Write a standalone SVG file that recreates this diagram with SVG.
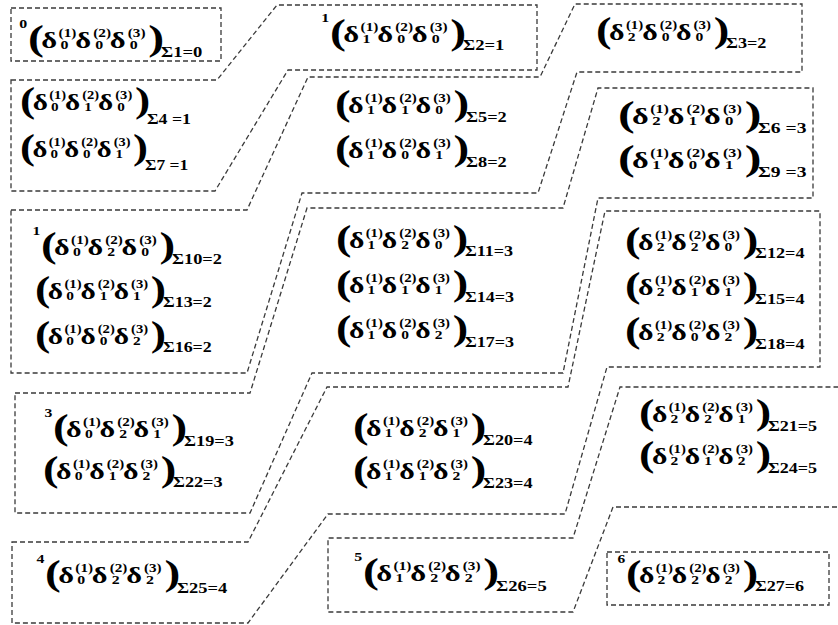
<svg xmlns="http://www.w3.org/2000/svg" width="838" height="625" viewBox="0 0 838 625">
<style>
  .bg { fill: #ffffff; }
  .zone { fill: none; stroke: #3a3a3a; stroke-width: 1.3; stroke-dasharray: 5 3; }
  .states text { font-family: "Liberation Serif", "Times New Roman", "DejaVu Serif", serif; font-weight: bold; fill: #000; }
  .pa { font-size: 36px; }
  .d  { font-size: 23px; }
  .sp { font-size: 11.5px; }
  .sb { font-size: 12px; }
  .lb { font-size: 14px; }
  .pf { font-size: 12px; }
</style>
<rect class="bg" x="0" y="0" width="838" height="625"/>

<!-- dashed outlines: one per total index value -->
<g id="zones">
  <path id="zone0" class="zone" d="M11,8 H221 V61 H11 Z"/>
  <path id="zone1" class="zone" d="M11,80 H217 L277,5 H537 V70 H288 L215,191 H11 Z"/>
  <path id="zone2" class="zone" d="M11,210 H247 L308,77 H540 L575,4 H802 V72 H577 L538,193 H302 L247,373 H11 Z"/>
  <path id="zone3" class="zone" d="M15,393 H250 L307,208 H563 L598,88 H813 V198 H598 L563,373 H312 L250,513 H15 Z"/>
  <path id="zone4" class="zone" d="M12,542 H248 L327,387 H568 L605,211 H820 V367 H607 L565,514 H328 L248,623 H12 Z"/>
  <path id="zone5" class="zone" d="M845,507 H613 L573,612 H328 V538 H573 L620,387 H845"/>
  <path id="zone6" class="zone" d="M607,552 H829 V605 H607 Z"/>
</g>

<!-- states: (  d^(1)_a d^(2)_b d^(3)_c  ) with the sum label -->
<g class="states" font-family="Liberation Serif, serif" font-weight="bold">
<g id="s1" transform="translate(28,48) scale(1.33,1)"><text><tspan class="pf" x="-6.5" y="-20">0</tspan><tspan class="pa" x="0" y="2">(</tspan><tspan class="d" x="10" y="0">δ</tspan><tspan class="sp" x="23" y="-11">(1)</tspan><tspan class="sb" x="24.5" y="1">0</tspan><tspan class="d" x="35.5" y="0">δ</tspan><tspan class="sp" x="49" y="-11">(2)</tspan><tspan class="sb" x="50.5" y="1">0</tspan><tspan class="d" x="61.5" y="0">δ</tspan><tspan class="sp" x="75" y="-11">(3)</tspan><tspan class="sb" x="76.5" y="1">0</tspan><tspan class="pa" x="90.5" y="2">)</tspan><tspan class="lb" x="100" y="9">Σ1=0</tspan></text></g>
<g id="s2" transform="translate(330,42) scale(1.33,1)"><text><tspan class="pf" x="-6.5" y="-20">1</tspan><tspan class="pa" x="0" y="2">(</tspan><tspan class="d" x="10" y="0">δ</tspan><tspan class="sp" x="23" y="-11">(1)</tspan><tspan class="sb" x="24.5" y="1">1</tspan><tspan class="d" x="35.5" y="0">δ</tspan><tspan class="sp" x="49" y="-11">(2)</tspan><tspan class="sb" x="50.5" y="1">0</tspan><tspan class="d" x="61.5" y="0">δ</tspan><tspan class="sp" x="75" y="-11">(3)</tspan><tspan class="sb" x="76.5" y="1">0</tspan><tspan class="pa" x="90.5" y="2">)</tspan><tspan class="lb" x="100" y="8">Σ2=1</tspan></text></g>
<g id="s3" transform="translate(596,40) scale(1.30,1)"><text><tspan class="pa" x="0" y="2">(</tspan><tspan class="d" x="10" y="0">δ</tspan><tspan class="sp" x="23" y="-11">(1)</tspan><tspan class="sb" x="24.5" y="1">2</tspan><tspan class="d" x="35.5" y="0">δ</tspan><tspan class="sp" x="49" y="-11">(2)</tspan><tspan class="sb" x="50.5" y="1">0</tspan><tspan class="d" x="61.5" y="0">δ</tspan><tspan class="sp" x="75" y="-11">(3)</tspan><tspan class="sb" x="76.5" y="1">0</tspan><tspan class="pa" x="90.5" y="2">)</tspan><tspan class="lb" x="100" y="8">Σ3=2</tspan></text></g>
<g id="s4" transform="translate(20,110) scale(1.27,1)"><text><tspan class="pa" x="0" y="2">(</tspan><tspan class="d" x="10" y="0">δ</tspan><tspan class="sp" x="23" y="-11">(1)</tspan><tspan class="sb" x="24.5" y="1">0</tspan><tspan class="d" x="35.5" y="0">δ</tspan><tspan class="sp" x="49" y="-11">(2)</tspan><tspan class="sb" x="50.5" y="1">1</tspan><tspan class="d" x="61.5" y="0">δ</tspan><tspan class="sp" x="75" y="-11">(3)</tspan><tspan class="sb" x="76.5" y="1">0</tspan><tspan class="pa" x="90.5" y="2">)</tspan><tspan class="lb" x="100" y="14">Σ4 =1</tspan></text></g>
<g id="s5" transform="translate(335,113) scale(1.31,1)"><text><tspan class="pa" x="0" y="2">(</tspan><tspan class="d" x="10" y="0">δ</tspan><tspan class="sp" x="23" y="-11">(1)</tspan><tspan class="sb" x="24.5" y="1">1</tspan><tspan class="d" x="35.5" y="0">δ</tspan><tspan class="sp" x="49" y="-11">(2)</tspan><tspan class="sb" x="50.5" y="1">1</tspan><tspan class="d" x="61.5" y="0">δ</tspan><tspan class="sp" x="75" y="-11">(3)</tspan><tspan class="sb" x="76.5" y="1">0</tspan><tspan class="pa" x="90.5" y="2">)</tspan><tspan class="lb" x="100" y="9">Σ5=2</tspan></text></g>
<g id="s6" transform="translate(618,124) scale(1.40,1)"><text><tspan class="pa" x="0" y="2">(</tspan><tspan class="d" x="10" y="0">δ</tspan><tspan class="sp" x="23" y="-11">(1)</tspan><tspan class="sb" x="24.5" y="1">2</tspan><tspan class="d" x="35.5" y="0">δ</tspan><tspan class="sp" x="49" y="-11">(2)</tspan><tspan class="sb" x="50.5" y="1">1</tspan><tspan class="d" x="61.5" y="0">δ</tspan><tspan class="sp" x="75" y="-11">(3)</tspan><tspan class="sb" x="76.5" y="1">0</tspan><tspan class="pa" x="90.5" y="2">)</tspan><tspan class="lb" x="100" y="9">Σ6 =3</tspan></text></g>
<g id="s7" transform="translate(20,157) scale(1.25,1)"><text><tspan class="pa" x="0" y="2">(</tspan><tspan class="d" x="10" y="0">δ</tspan><tspan class="sp" x="23" y="-11">(1)</tspan><tspan class="sb" x="24.5" y="1">0</tspan><tspan class="d" x="35.5" y="0">δ</tspan><tspan class="sp" x="49" y="-11">(2)</tspan><tspan class="sb" x="50.5" y="1">0</tspan><tspan class="d" x="61.5" y="0">δ</tspan><tspan class="sp" x="75" y="-11">(3)</tspan><tspan class="sb" x="76.5" y="1">1</tspan><tspan class="pa" x="90.5" y="2">)</tspan><tspan class="lb" x="100" y="13">Σ7 =1</tspan></text></g>
<g id="s8" transform="translate(335,158) scale(1.31,1)"><text><tspan class="pa" x="0" y="2">(</tspan><tspan class="d" x="10" y="0">δ</tspan><tspan class="sp" x="23" y="-11">(1)</tspan><tspan class="sb" x="24.5" y="1">1</tspan><tspan class="d" x="35.5" y="0">δ</tspan><tspan class="sp" x="49" y="-11">(2)</tspan><tspan class="sb" x="50.5" y="1">0</tspan><tspan class="d" x="61.5" y="0">δ</tspan><tspan class="sp" x="75" y="-11">(3)</tspan><tspan class="sb" x="76.5" y="1">1</tspan><tspan class="pa" x="90.5" y="2">)</tspan><tspan class="lb" x="100" y="9">Σ8=2</tspan></text></g>
<g id="s9" transform="translate(618,168) scale(1.40,1)"><text><tspan class="pa" x="0" y="2">(</tspan><tspan class="d" x="10" y="0">δ</tspan><tspan class="sp" x="23" y="-11">(1)</tspan><tspan class="sb" x="24.5" y="1">1</tspan><tspan class="d" x="35.5" y="0">δ</tspan><tspan class="sp" x="49" y="-11">(2)</tspan><tspan class="sb" x="50.5" y="1">0</tspan><tspan class="d" x="61.5" y="0">δ</tspan><tspan class="sp" x="75" y="-11">(3)</tspan><tspan class="sb" x="76.5" y="1">1</tspan><tspan class="pa" x="90.5" y="2">)</tspan><tspan class="lb" x="100" y="9">Σ9 =3</tspan></text></g>
<g id="s10" transform="translate(41,255) scale(1.31,1)"><text><tspan class="pf" x="-6.5" y="-20">1</tspan><tspan class="pa" x="0" y="2">(</tspan><tspan class="d" x="10" y="0">δ</tspan><tspan class="sp" x="23" y="-11">(1)</tspan><tspan class="sb" x="24.5" y="1">0</tspan><tspan class="d" x="35.5" y="0">δ</tspan><tspan class="sp" x="49" y="-11">(2)</tspan><tspan class="sb" x="50.5" y="1">2</tspan><tspan class="d" x="61.5" y="0">δ</tspan><tspan class="sp" x="75" y="-11">(3)</tspan><tspan class="sb" x="76.5" y="1">0</tspan><tspan class="pa" x="90.5" y="2">)</tspan><tspan class="lb" x="100" y="9">Σ10=2</tspan></text></g>
<g id="s11" transform="translate(336,248) scale(1.29,1)"><text><tspan class="pa" x="0" y="2">(</tspan><tspan class="d" x="10" y="0">δ</tspan><tspan class="sp" x="23" y="-11">(1)</tspan><tspan class="sb" x="24.5" y="1">1</tspan><tspan class="d" x="35.5" y="0">δ</tspan><tspan class="sp" x="49" y="-11">(2)</tspan><tspan class="sb" x="50.5" y="1">2</tspan><tspan class="d" x="61.5" y="0">δ</tspan><tspan class="sp" x="75" y="-11">(3)</tspan><tspan class="sb" x="76.5" y="1">0</tspan><tspan class="pa" x="90.5" y="2">)</tspan><tspan class="lb" x="100" y="8">Σ11=3</tspan></text></g>
<g id="s12" transform="translate(625,250) scale(1.30,1)"><text><tspan class="pa" x="0" y="2">(</tspan><tspan class="d" x="10" y="0">δ</tspan><tspan class="sp" x="23" y="-11">(1)</tspan><tspan class="sb" x="24.5" y="1">2</tspan><tspan class="d" x="35.5" y="0">δ</tspan><tspan class="sp" x="49" y="-11">(2)</tspan><tspan class="sb" x="50.5" y="1">2</tspan><tspan class="d" x="61.5" y="0">δ</tspan><tspan class="sp" x="75" y="-11">(3)</tspan><tspan class="sb" x="76.5" y="1">0</tspan><tspan class="pa" x="90.5" y="2">)</tspan><tspan class="lb" x="100" y="8">Σ12=4</tspan></text></g>
<g id="s13" transform="translate(35,299) scale(1.28,1)"><text><tspan class="pa" x="0" y="2">(</tspan><tspan class="d" x="10" y="0">δ</tspan><tspan class="sp" x="23" y="-11">(1)</tspan><tspan class="sb" x="24.5" y="1">0</tspan><tspan class="d" x="35.5" y="0">δ</tspan><tspan class="sp" x="49" y="-11">(2)</tspan><tspan class="sb" x="50.5" y="1">1</tspan><tspan class="d" x="61.5" y="0">δ</tspan><tspan class="sp" x="75" y="-11">(3)</tspan><tspan class="sb" x="76.5" y="1">1</tspan><tspan class="pa" x="90.5" y="2">)</tspan><tspan class="lb" x="100" y="8">Σ13=2</tspan></text></g>
<g id="s14" transform="translate(336,293) scale(1.29,1)"><text><tspan class="pa" x="0" y="2">(</tspan><tspan class="d" x="10" y="0">δ</tspan><tspan class="sp" x="23" y="-11">(1)</tspan><tspan class="sb" x="24.5" y="1">1</tspan><tspan class="d" x="35.5" y="0">δ</tspan><tspan class="sp" x="49" y="-11">(2)</tspan><tspan class="sb" x="50.5" y="1">1</tspan><tspan class="d" x="61.5" y="0">δ</tspan><tspan class="sp" x="75" y="-11">(3)</tspan><tspan class="sb" x="76.5" y="1">1</tspan><tspan class="pa" x="90.5" y="2">)</tspan><tspan class="lb" x="100" y="9">Σ14=3</tspan></text></g>
<g id="s15" transform="translate(625,295) scale(1.30,1)"><text><tspan class="pa" x="0" y="2">(</tspan><tspan class="d" x="10" y="0">δ</tspan><tspan class="sp" x="23" y="-11">(1)</tspan><tspan class="sb" x="24.5" y="1">2</tspan><tspan class="d" x="35.5" y="0">δ</tspan><tspan class="sp" x="49" y="-11">(2)</tspan><tspan class="sb" x="50.5" y="1">1</tspan><tspan class="d" x="61.5" y="0">δ</tspan><tspan class="sp" x="75" y="-11">(3)</tspan><tspan class="sb" x="76.5" y="1">1</tspan><tspan class="pa" x="90.5" y="2">)</tspan><tspan class="lb" x="100" y="9">Σ15=4</tspan></text></g>
<g id="s16" transform="translate(35,344) scale(1.28,1)"><text><tspan class="pa" x="0" y="2">(</tspan><tspan class="d" x="10" y="0">δ</tspan><tspan class="sp" x="23" y="-11">(1)</tspan><tspan class="sb" x="24.5" y="1">0</tspan><tspan class="d" x="35.5" y="0">δ</tspan><tspan class="sp" x="49" y="-11">(2)</tspan><tspan class="sb" x="50.5" y="1">0</tspan><tspan class="d" x="61.5" y="0">δ</tspan><tspan class="sp" x="75" y="-11">(3)</tspan><tspan class="sb" x="76.5" y="1">2</tspan><tspan class="pa" x="90.5" y="2">)</tspan><tspan class="lb" x="100" y="8">Σ16=2</tspan></text></g>
<g id="s17" transform="translate(336,338) scale(1.29,1)"><text><tspan class="pa" x="0" y="2">(</tspan><tspan class="d" x="10" y="0">δ</tspan><tspan class="sp" x="23" y="-11">(1)</tspan><tspan class="sb" x="24.5" y="1">1</tspan><tspan class="d" x="35.5" y="0">δ</tspan><tspan class="sp" x="49" y="-11">(2)</tspan><tspan class="sb" x="50.5" y="1">0</tspan><tspan class="d" x="61.5" y="0">δ</tspan><tspan class="sp" x="75" y="-11">(3)</tspan><tspan class="sb" x="76.5" y="1">2</tspan><tspan class="pa" x="90.5" y="2">)</tspan><tspan class="lb" x="100" y="9">Σ17=3</tspan></text></g>
<g id="s18" transform="translate(625,340) scale(1.30,1)"><text><tspan class="pa" x="0" y="2">(</tspan><tspan class="d" x="10" y="0">δ</tspan><tspan class="sp" x="23" y="-11">(1)</tspan><tspan class="sb" x="24.5" y="1">2</tspan><tspan class="d" x="35.5" y="0">δ</tspan><tspan class="sp" x="49" y="-11">(2)</tspan><tspan class="sb" x="50.5" y="1">0</tspan><tspan class="d" x="61.5" y="0">δ</tspan><tspan class="sp" x="75" y="-11">(3)</tspan><tspan class="sb" x="76.5" y="1">2</tspan><tspan class="pa" x="90.5" y="2">)</tspan><tspan class="lb" x="100" y="9">Σ18=4</tspan></text></g>
<g id="s19" transform="translate(53,437) scale(1.31,1)"><text><tspan class="pf" x="-6.5" y="-20">3</tspan><tspan class="pa" x="0" y="2">(</tspan><tspan class="d" x="10" y="0">δ</tspan><tspan class="sp" x="23" y="-11">(1)</tspan><tspan class="sb" x="24.5" y="1">0</tspan><tspan class="d" x="35.5" y="0">δ</tspan><tspan class="sp" x="49" y="-11">(2)</tspan><tspan class="sb" x="50.5" y="1">2</tspan><tspan class="d" x="61.5" y="0">δ</tspan><tspan class="sp" x="75" y="-11">(3)</tspan><tspan class="sb" x="76.5" y="1">1</tspan><tspan class="pa" x="90.5" y="2">)</tspan><tspan class="lb" x="100" y="9">Σ19=3</tspan></text></g>
<g id="s20" transform="translate(353,436) scale(1.30,1)"><text><tspan class="pa" x="0" y="2">(</tspan><tspan class="d" x="10" y="0">δ</tspan><tspan class="sp" x="23" y="-11">(1)</tspan><tspan class="sb" x="24.5" y="1">1</tspan><tspan class="d" x="35.5" y="0">δ</tspan><tspan class="sp" x="49" y="-11">(2)</tspan><tspan class="sb" x="50.5" y="1">2</tspan><tspan class="d" x="61.5" y="0">δ</tspan><tspan class="sp" x="75" y="-11">(3)</tspan><tspan class="sb" x="76.5" y="1">1</tspan><tspan class="pa" x="90.5" y="2">)</tspan><tspan class="lb" x="100" y="9">Σ20=4</tspan></text></g>
<g id="s21" transform="translate(639,422) scale(1.29,1)"><text><tspan class="pa" x="0" y="2">(</tspan><tspan class="d" x="10" y="0">δ</tspan><tspan class="sp" x="23" y="-11">(1)</tspan><tspan class="sb" x="24.5" y="1">2</tspan><tspan class="d" x="35.5" y="0">δ</tspan><tspan class="sp" x="49" y="-11">(2)</tspan><tspan class="sb" x="50.5" y="1">2</tspan><tspan class="d" x="61.5" y="0">δ</tspan><tspan class="sp" x="75" y="-11">(3)</tspan><tspan class="sb" x="76.5" y="1">1</tspan><tspan class="pa" x="90.5" y="2">)</tspan><tspan class="lb" x="100" y="9">Σ21=5</tspan></text></g>
<g id="s22" transform="translate(43,479) scale(1.30,1)"><text><tspan class="pa" x="0" y="2">(</tspan><tspan class="d" x="10" y="0">δ</tspan><tspan class="sp" x="23" y="-11">(1)</tspan><tspan class="sb" x="24.5" y="1">0</tspan><tspan class="d" x="35.5" y="0">δ</tspan><tspan class="sp" x="49" y="-11">(2)</tspan><tspan class="sb" x="50.5" y="1">1</tspan><tspan class="d" x="61.5" y="0">δ</tspan><tspan class="sp" x="75" y="-11">(3)</tspan><tspan class="sb" x="76.5" y="1">2</tspan><tspan class="pa" x="90.5" y="2">)</tspan><tspan class="lb" x="100" y="8">Σ22=3</tspan></text></g>
<g id="s23" transform="translate(353,479) scale(1.30,1)"><text><tspan class="pa" x="0" y="2">(</tspan><tspan class="d" x="10" y="0">δ</tspan><tspan class="sp" x="23" y="-11">(1)</tspan><tspan class="sb" x="24.5" y="1">1</tspan><tspan class="d" x="35.5" y="0">δ</tspan><tspan class="sp" x="49" y="-11">(2)</tspan><tspan class="sb" x="50.5" y="1">1</tspan><tspan class="d" x="61.5" y="0">δ</tspan><tspan class="sp" x="75" y="-11">(3)</tspan><tspan class="sb" x="76.5" y="1">2</tspan><tspan class="pa" x="90.5" y="2">)</tspan><tspan class="lb" x="100" y="9">Σ23=4</tspan></text></g>
<g id="s24" transform="translate(639,464) scale(1.29,1)"><text><tspan class="pa" x="0" y="2">(</tspan><tspan class="d" x="10" y="0">δ</tspan><tspan class="sp" x="23" y="-11">(1)</tspan><tspan class="sb" x="24.5" y="1">2</tspan><tspan class="d" x="35.5" y="0">δ</tspan><tspan class="sp" x="49" y="-11">(2)</tspan><tspan class="sb" x="50.5" y="1">1</tspan><tspan class="d" x="61.5" y="0">δ</tspan><tspan class="sp" x="75" y="-11">(3)</tspan><tspan class="sb" x="76.5" y="1">2</tspan><tspan class="pa" x="90.5" y="2">)</tspan><tspan class="lb" x="100" y="9">Σ24=5</tspan></text></g>
<g id="s25" transform="translate(45,583) scale(1.32,1)"><text><tspan class="pf" x="-6.5" y="-20">4</tspan><tspan class="pa" x="0" y="2">(</tspan><tspan class="d" x="10" y="0">δ</tspan><tspan class="sp" x="23" y="-11">(1)</tspan><tspan class="sb" x="24.5" y="1">0</tspan><tspan class="d" x="35.5" y="0">δ</tspan><tspan class="sp" x="49" y="-11">(2)</tspan><tspan class="sb" x="50.5" y="1">2</tspan><tspan class="d" x="61.5" y="0">δ</tspan><tspan class="sp" x="75" y="-11">(3)</tspan><tspan class="sb" x="76.5" y="1">2</tspan><tspan class="pa" x="90.5" y="2">)</tspan><tspan class="lb" x="100" y="10">Σ25=4</tspan></text></g>
<g id="s26" transform="translate(363,581) scale(1.33,1)"><text><tspan class="pf" x="-6.5" y="-20">5</tspan><tspan class="pa" x="0" y="2">(</tspan><tspan class="d" x="10" y="0">δ</tspan><tspan class="sp" x="23" y="-11">(1)</tspan><tspan class="sb" x="24.5" y="1">1</tspan><tspan class="d" x="35.5" y="0">δ</tspan><tspan class="sp" x="49" y="-11">(2)</tspan><tspan class="sb" x="50.5" y="1">2</tspan><tspan class="d" x="61.5" y="0">δ</tspan><tspan class="sp" x="75" y="-11">(3)</tspan><tspan class="sb" x="76.5" y="1">2</tspan><tspan class="pa" x="90.5" y="2">)</tspan><tspan class="lb" x="100" y="10">Σ26=5</tspan></text></g>
<g id="s27" transform="translate(626,583) scale(1.29,1)"><text><tspan class="pf" x="-6.5" y="-20">6</tspan><tspan class="pa" x="0" y="2">(</tspan><tspan class="d" x="10" y="0">δ</tspan><tspan class="sp" x="23" y="-11">(1)</tspan><tspan class="sb" x="24.5" y="1">2</tspan><tspan class="d" x="35.5" y="0">δ</tspan><tspan class="sp" x="49" y="-11">(2)</tspan><tspan class="sb" x="50.5" y="1">2</tspan><tspan class="d" x="61.5" y="0">δ</tspan><tspan class="sp" x="75" y="-11">(3)</tspan><tspan class="sb" x="76.5" y="1">2</tspan><tspan class="pa" x="90.5" y="2">)</tspan><tspan class="lb" x="100" y="8">Σ27=6</tspan></text></g>
</g>
</svg>
